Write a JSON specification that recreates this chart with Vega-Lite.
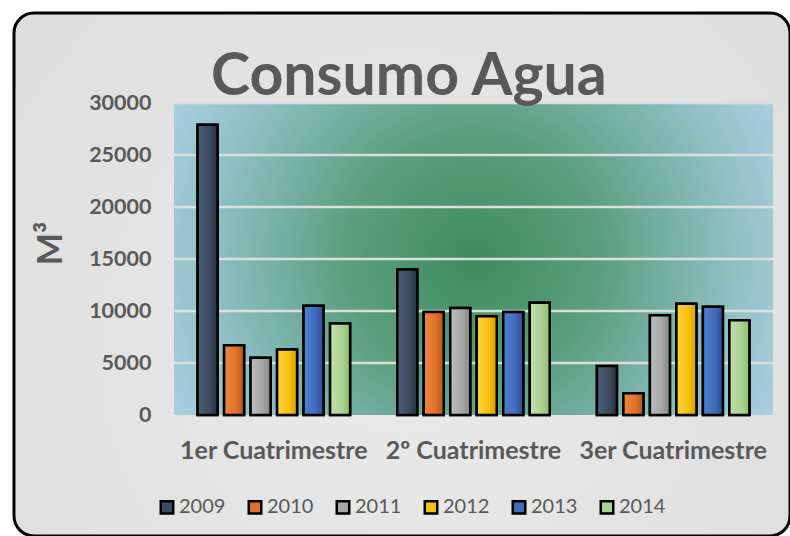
{
  "$schema": "https://vega.github.io/schema/vega-lite/v6.json",
  "width": 776,
  "height": 523,
  "autosize": {"type": "none"},
  "padding": {"left": 14, "top": 13, "right": 0, "bottom": 0},
  "background": "#ffffff",
  "title": {
    "text": "Consumo Agua",
    "font": "Lato",
    "fontSize": 59,
    "fontWeight": "bold",
    "color": "#595959",
    "anchor": "start",
    "frame": "group",
    "baseline": "alphabetic",
    "offset": -79,
    "dx": 197,
    "dy": 62
  },
  "config": {
    "view": {
      "stroke": "#000000",
      "strokeWidth": 3,
      "cornerRadius": 20,
      "fill": {
        "gradient": "radial",
        "x1": 0.5, "y1": 0.6, "r1": 0,
        "x2": 0.5, "y2": 0.6, "r2": 0.75,
        "stops": [
          {"offset": 0, "color": "#eaeaea"},
          {"offset": 1, "color": "#dcdcdc"}
        ]
      }
    },
    "axis": {"domain": false, "ticks": false, "grid": false}
  },
  "layer": [
    {
      "data": {"values": [{"zona": "plot"}]},
      "mark": {
        "type": "rect",
        "color": {
          "gradient": "radial",
          "x1": 0.5, "y1": 0.5, "r1": 0,
          "x2": 0.5, "y2": 0.5, "r2": 0.62,
          "stops": [
            {"offset": 0, "color": "#3e8b5d"},
            {"offset": 0.35, "color": "#5c9f80"},
            {"offset": 0.7, "color": "#8fbfc4"},
            {"offset": 1, "color": "#b6d6ee"}
          ]
        }
      },
      "encoding": {
        "x": {"datum": "1er Cuatrimestre", "type": "nominal", "bandPosition": 0},
        "x2": {"datum": "3er Cuatrimestre", "bandPosition": 1},
        "y": {"datum": 0, "type": "quantitative"},
        "y2": {"datum": 30000}
      }
    },
    {
      "data": {"values": [{"g": 5000}, {"g": 10000}, {"g": 15000}, {"g": 20000}, {"g": 25000}, {"g": 30000}]},
      "mark": {"type": "rule", "color": "#dadfdb", "strokeWidth": 2.5},
      "encoding": {
        "x": {"datum": "1er Cuatrimestre", "type": "nominal", "bandPosition": 0},
        "x2": {"datum": "3er Cuatrimestre", "bandPosition": 1},
        "y": {"field": "g", "type": "quantitative"}
      }
    },
    {
      "data": {
        "values": [
          {"periodo": "1er Cuatrimestre", "anio": "2009", "consumo": 27900},
          {"periodo": "1er Cuatrimestre", "anio": "2010", "consumo": 6700},
          {"periodo": "1er Cuatrimestre", "anio": "2011", "consumo": 5500},
          {"periodo": "1er Cuatrimestre", "anio": "2012", "consumo": 6300},
          {"periodo": "1er Cuatrimestre", "anio": "2013", "consumo": 10500},
          {"periodo": "1er Cuatrimestre", "anio": "2014", "consumo": 8800},
          {"periodo": "2º Cuatrimestre", "anio": "2009", "consumo": 14000},
          {"periodo": "2º Cuatrimestre", "anio": "2010", "consumo": 9900},
          {"periodo": "2º Cuatrimestre", "anio": "2011", "consumo": 10300},
          {"periodo": "2º Cuatrimestre", "anio": "2012", "consumo": 9500},
          {"periodo": "2º Cuatrimestre", "anio": "2013", "consumo": 9900},
          {"periodo": "2º Cuatrimestre", "anio": "2014", "consumo": 10800},
          {"periodo": "3er Cuatrimestre", "anio": "2009", "consumo": 4700},
          {"periodo": "3er Cuatrimestre", "anio": "2010", "consumo": 2100},
          {"periodo": "3er Cuatrimestre", "anio": "2011", "consumo": 9600},
          {"periodo": "3er Cuatrimestre", "anio": "2012", "consumo": 10700},
          {"periodo": "3er Cuatrimestre", "anio": "2013", "consumo": 10400},
          {"periodo": "3er Cuatrimestre", "anio": "2014", "consumo": 9100}
        ]
      },
      "encoding": {
        "x": {
          "field": "periodo",
          "type": "nominal",
          "sort": null,
          "scale": {
            "domain": ["1er Cuatrimestre", "2º Cuatrimestre", "3er Cuatrimestre"],
            "range": [160, 759],
            "paddingInner": 0,
            "paddingOuter": 0
          },
          "axis": {
            "title": null,
            "orient": "bottom",
            "offset": -121,
            "labelAngle": 0,
            "labelAlign": "center",
            "labelPadding": 35,
            "labelFont": "Lato",
            "labelFontSize": 25,
            "labelFontWeight": "bold",
            "labelColor": "#595959",
            "labelLimit": 0
          }
        },
        "xOffset": {
          "field": "anio",
          "type": "nominal",
          "scale": {"paddingInner": 0.245, "paddingOuter": 0.89}
        },
        "y": {
          "field": "consumo",
          "type": "quantitative",
          "scale": {"domain": [0, 30000], "nice": false, "range": [402, 90]},
          "axis": {
            "values": [0, 5000, 10000, 15000, 20000, 25000, 30000],
            "format": "d",
            "offset": -160,
            "labelPadding": 23,
            "labelFont": "Lato",
            "labelFontSize": 21.5,
            "labelFontWeight": "bold",
            "labelColor": "#595959",
            "title": "M³",
            "titleFont": "Lato",
            "titleFontSize": 34,
            "titleFontWeight": "bold",
            "titleColor": "#595959",
            "titleX": -123,
            "titleY": 230,
            "titleAngle": -90,
            "titleAlign": "center",
            "titleBaseline": "middle"
          }
        }
      },
      "layer": [
        {
          "mark": {"type": "bar", "stroke": "#000000", "strokeWidth": 2.5},
          "encoding": {
            "fill": {
              "field": "anio",
              "type": "nominal",
              "scale": {
                "domain": ["2009", "2010", "2011", "2012", "2013", "2014"],
                "range": ["#3d4b61", "#e0722b", "#a6a6a6", "#f7c010", "#416cbc", "#acd293"]
              },
              "legend": {
                "title": null,
                "orient": "none",
                "legendX": 143,
                "legendY": 484,
                "direction": "horizontal",
                "columns": 6,
                "padding": 0,
                "symbolType": "square",
                "symbolSize": 156,
                "symbolStrokeColor": "#000000",
                "symbolStrokeWidth": 2.5,
                "labelOffset": 2,
                "columnPadding": 17,
                "labelFont": "Lato",
                "labelFontSize": 20,
                "labelColor": "#595959"
              }
            }
          }
        },
        {
          "mark": {"type": "bar", "stroke": "#000000", "strokeWidth": 2.5},
          "encoding": {
            "fill": {
              "condition": [
                {"test": "datum.anio === '2009'", "value": {"gradient": "linear", "x1": 0, "y1": 0, "x2": 1, "y2": 0, "stops": [{"offset": 0, "color": "#4d5d75"}, {"offset": 0.6, "color": "#3d4b61"}, {"offset": 1, "color": "#28323f"}]}},
                {"test": "datum.anio === '2010'", "value": {"gradient": "linear", "x1": 0, "y1": 0, "x2": 1, "y2": 0, "stops": [{"offset": 0, "color": "#f0853a"}, {"offset": 0.6, "color": "#e0722b"}, {"offset": 1, "color": "#b3561a"}]}},
                {"test": "datum.anio === '2011'", "value": {"gradient": "linear", "x1": 0, "y1": 0, "x2": 1, "y2": 0, "stops": [{"offset": 0, "color": "#bdbdbd"}, {"offset": 0.6, "color": "#a6a6a6"}, {"offset": 1, "color": "#858585"}]}},
                {"test": "datum.anio === '2012'", "value": {"gradient": "linear", "x1": 0, "y1": 0, "x2": 1, "y2": 0, "stops": [{"offset": 0, "color": "#ffd23a"}, {"offset": 0.6, "color": "#f7c010"}, {"offset": 1, "color": "#d9a200"}]}},
                {"test": "datum.anio === '2013'", "value": {"gradient": "linear", "x1": 0, "y1": 0, "x2": 1, "y2": 0, "stops": [{"offset": 0, "color": "#4f7fd2"}, {"offset": 0.6, "color": "#416cbc"}, {"offset": 1, "color": "#2c4c91"}]}}
              ],
              "value": {"gradient": "linear", "x1": 0, "y1": 0, "x2": 1, "y2": 0, "stops": [{"offset": 0, "color": "#c2e0ae"}, {"offset": 0.6, "color": "#acd293"}, {"offset": 1, "color": "#8cbc6c"}]}
            }
          }
        }
      ]
    }
  ]
}
